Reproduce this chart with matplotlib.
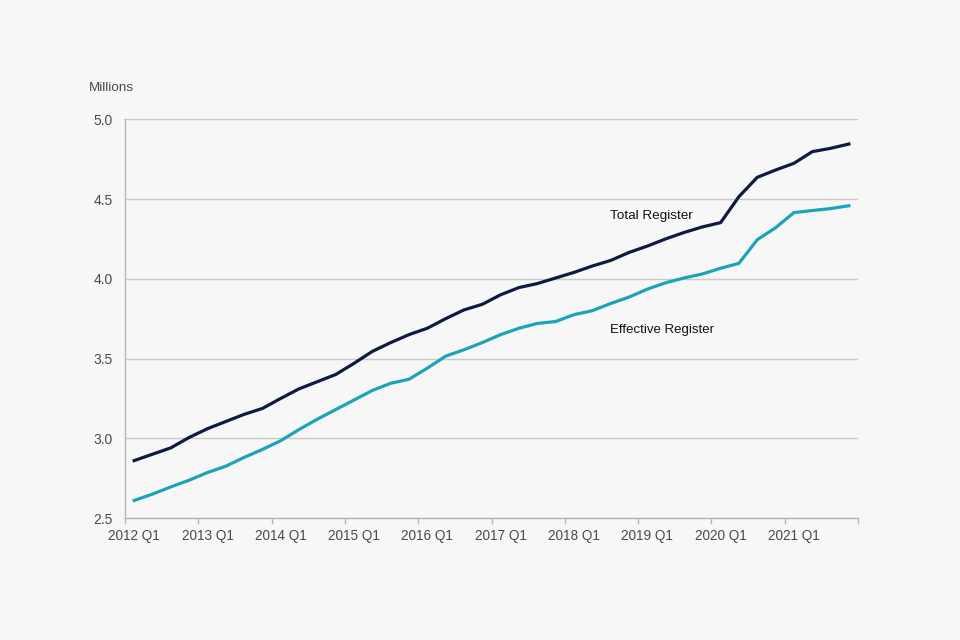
import matplotlib
matplotlib.use("Agg")
import matplotlib.pyplot as plt
import numpy as np

plt.rcParams['font.family'] = ['Liberation Sans', 'DejaVu Sans']

years = list(range(2012, 2022))
quarters = [f"{y} Q{q}" for y in years for q in range(1, 5)]
tick_labels = [f"{y} Q1" for y in years]

total_register = [2.86, 2.90, 2.94, 3.005, 3.06, 3.105, 3.15, 3.187, 3.25, 3.31,
                  3.355, 3.40, 3.47, 3.545, 3.60, 3.65, 3.69, 3.75, 3.805, 3.84,
                  3.90, 3.945, 3.97, 4.005, 4.04, 4.08, 4.115, 4.165, 4.205, 4.25,
                  4.29, 4.325, 4.352, 4.515, 4.636, 4.682, 4.724, 4.797, 4.818, 4.845]
effective_register = [2.61, 2.65, 2.695, 2.737, 2.785, 2.825, 2.88, 2.93, 2.985, 3.055,
                      3.12, 3.18, 3.24, 3.30, 3.345, 3.37, 3.44, 3.515, 3.555, 3.60,
                      3.65, 3.69, 3.72, 3.732, 3.775, 3.80, 3.845, 3.885, 3.935, 3.975,
                      4.005, 4.03, 4.066, 4.097, 4.245, 4.32, 4.415, 4.428, 4.44, 4.458]

bg = '#f7f7f7'
label_color = '#4a4a4a'
fig = plt.figure(figsize=(9.6, 6.4), dpi=100, facecolor=bg)
ax = fig.add_axes([0.1302, 0.1906, 0.7636, 0.623])
ax.set_facecolor(bg)

x = np.arange(len(quarters))
ax.plot(x, total_register, color='#0d1b3e', lw=2.3, solid_joinstyle='round')
ax.plot(x, effective_register, color='#1ba3b6', lw=2.3, solid_joinstyle='round')

ax.set_xlim(-0.5, len(quarters) - 0.5)
ax.set_ylim(2.5, 5.0)
ax.set_yticks([2.5, 3.0, 3.5, 4.0, 4.5, 5.0])
ax.set_yticklabels([f"{v:.1f}" for v in [2.5, 3.0, 3.5, 4.0, 4.5, 5.0]])
ax.yaxis.grid(True, color='#c9c9c9', lw=1)
ax.set_axisbelow(True)

# boundary ticks
ax.set_xticks(np.arange(-0.5, len(quarters), 4))
ax.set_xticklabels([])
ax.set_xticks(np.arange(0, len(quarters), 4), minor=True)
ax.set_xticklabels(tick_labels, minor=True)
ax.tick_params(axis='x', which='major', length=4, color='#b5b5b5', width=1)
ax.tick_params(axis='x', which='minor', length=0, pad=8, labelsize=9.8, labelcolor=label_color)
ax.tick_params(axis='y', length=0, pad=9, labelsize=10, labelcolor=label_color)

for s in ['top', 'right']:
    ax.spines[s].set_visible(False)
for s in ['left', 'bottom']:
    ax.spines[s].set_color('#b5b5b5')
    ax.spines[s].set_linewidth(1)

ax.text(25.95, 4.392, 'Total Register', fontsize=9.7, color='#111111', va='center', ha='left')
ax.text(25.95, 3.677, 'Effective Register', fontsize=9.5, color='#111111', va='center', ha='left')
fig.text(89/960, 1 - 88/640, 'Millions', fontsize=9.7, color=label_color, va='center', ha='left')

fig.savefig('out.png', dpi=100, facecolor=bg)
